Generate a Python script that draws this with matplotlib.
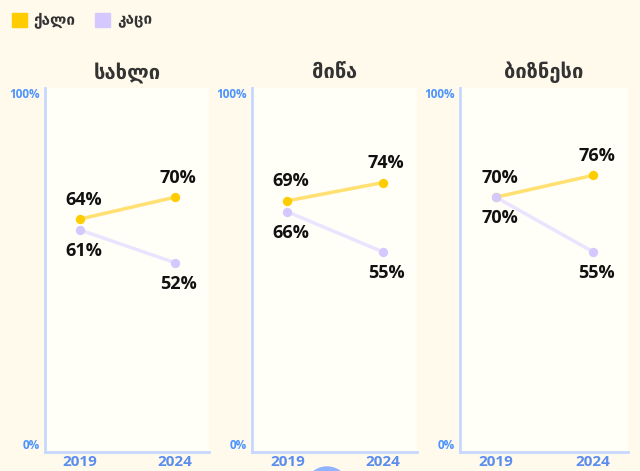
import matplotlib.pyplot as plt
from matplotlib.patches import Ellipse, Rectangle

years = ['2019', '2024']
titles = ['სახლი', 'მიწა', 'ბიზნესი']
women = [[64, 70], [69, 74], [70, 76]]
men = [[61, 52], [66, 55], [70, 55]]
legend_names = ['ქალი', 'კაცი']

bg = '#fffaec'
panel_bg = '#fffef7'
c_women = '#ffcc00'
c_women_line = '#ffe070'
c_men = '#d5c8ff'
c_men_line = '#ebe4ff'
axis_col = '#c6d8ff'
tick_col = '#4d94ff'
year_col = '#5b8def'

W, H = 640, 471
fig = plt.figure(figsize=(6.4, 4.71), dpi=100, facecolor=bg)

lefts = [45, 252, 460]
rights = [209, 417, 628]
top, bottom = 88, 452

for i in range(3):
    ax = fig.add_axes([lefts[i] / W, 1 - bottom / H, (rights[i] - lefts[i]) / W, (bottom - top) / H])
    ax.set_facecolor(panel_bg)
    x = [0, 1]
    ax.plot(x, women[i], color=c_women_line, lw=2.5, zorder=2)
    ax.plot(x, men[i], color=c_men_line, lw=2.5, zorder=2)
    ax.scatter(x, women[i], s=45, color=c_women, zorder=3, lw=0)
    ax.scatter(x, men[i], s=45, color=c_men, zorder=4, lw=0)
    for xi, v in zip(x, women[i]):
        ax.annotate(f'{v}%', (xi, v), xytext=(2.5, 14), textcoords='offset points',
                    ha='center', va='center', fontsize=13, fontweight='bold',
                    family='Open Sans', color='#111111')
    for xi, v in zip(x, men[i]):
        ax.annotate(f'{v}%', (xi, v), xytext=(2.5, -15), textcoords='offset points',
                    ha='center', va='center', fontsize=13, fontweight='bold',
                    family='Open Sans', color='#111111')
    ax.set_xlim(-0.37, 1.36)
    ax.set_ylim(0, 100)
    for s in ['top', 'right']:
        ax.spines[s].set_visible(False)
    for s in ['left', 'bottom']:
        ax.spines[s].set_color(axis_col)
        ax.spines[s].set_linewidth(2)
    ax.set_yticks([0, 100])
    ax.set_yticklabels(['0%', '100%'], fontsize=8.5, fontweight='bold', color=tick_col, family='Open Sans')
    ax.set_xticks(x)
    ax.set_xticklabels(years, fontsize=11, fontweight='bold', color=year_col, family='Open Sans')
    ax.tick_params(length=0, pad=2)
    ax.tick_params(axis='y', pad=4)
    for lab in ax.get_yticklabels():
        lab.set_verticalalignment('top' if lab.get_text() == '100%' else 'bottom')
    ax.set_title(titles[i], fontsize=14.5, fontweight='bold', color='#333333',
                 family='DejaVu Sans', pad=7)

# legend
fig.patches.append(Rectangle((12 / W, 1 - 27 / H), 15 / W, 14 / H, transform=fig.transFigure,
                             color=c_women, figure=fig))
fig.text(33 / W, 1 - 20 / H, legend_names[0], fontsize=11, fontweight='bold', color='#333333',
         va='center', family='DejaVu Sans')
fig.patches.append(Rectangle((95 / W, 1 - 27 / H), 15 / W, 14 / H, transform=fig.transFigure,
                             color=c_men, figure=fig))
fig.text(117 / W, 1 - 20 / H, legend_names[1], fontsize=11, fontweight='bold', color='#333333',
         va='center', family='DejaVu Sans')

# partly visible round button at the bottom
fig.patches.append(Ellipse((327 / W, 1 - 489 / H), 44 / W, 44 / H, transform=fig.transFigure,
                           color='#8fb3ff', figure=fig, zorder=0))

fig.savefig('out.png', dpi=100, facecolor=bg)
